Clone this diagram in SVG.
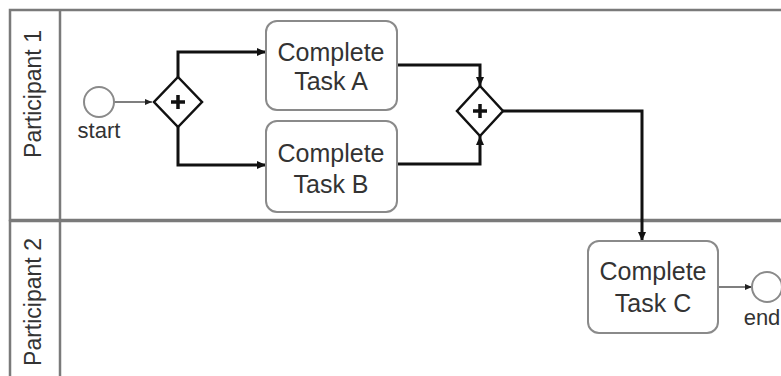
<svg xmlns="http://www.w3.org/2000/svg" width="781" height="376" viewBox="0 0 781 376">
<style>
.lane{fill:#fff;stroke:#7a7a7a;stroke-width:2.5}
.lbl{font-family:"Liberation Sans",Arial,sans-serif;font-size:23px;fill:#333;text-anchor:middle}
.task{fill:#fff;stroke:#8a8a8a;stroke-width:2}
.tt{font-family:"Liberation Sans",Arial,sans-serif;font-size:25px;fill:#333;text-anchor:middle}
.ev{fill:#fff;stroke:#8a8a8a;stroke-width:2}
.evt{font-family:"Liberation Sans",Arial,sans-serif;font-size:22px;fill:#333;text-anchor:middle}
.gw{fill:#fff;stroke:#111;stroke-width:2.5}
.plus{stroke:#111;stroke-width:3.5;fill:none}
.flow{fill:none;stroke:#111;stroke-width:3;marker-end:url(#ah)}
.thin{fill:none;stroke:#555;stroke-width:1.5;marker-end:url(#ahs)}
</style>
<defs>
<marker id="ah" markerUnits="userSpaceOnUse" markerWidth="10" markerHeight="10" refX="9" refY="5" orient="auto"><path d="M0,1 L9,5 L0,9 Z" fill="#111"/></marker>
<marker id="ahs" markerUnits="userSpaceOnUse" markerWidth="8" markerHeight="8" refX="7" refY="4" orient="auto"><path d="M0,1 L7,4 L0,7 Z" fill="#222"/></marker>
</defs>
<rect width="781" height="376" fill="#fff"/>
<g id="lane1">
<rect class="lane" x="10" y="10" width="790" height="210"/>
<line class="lane" x1="60" y1="10" x2="60" y2="220"/>
<text class="lbl" transform="translate(41,94) rotate(-90)">Participant 1</text>
</g>
<g id="lane2">
<rect class="lane" x="10" y="221" width="790" height="180"/>
<line class="lane" x1="60" y1="221" x2="60" y2="376"/>
<text class="lbl" transform="translate(41,302) rotate(-90)">Participant 2</text>
</g>
<g id="connectors">
<path class="thin" d="M114,102 L152,102"/>
<path class="flow" d="M178,77 L178,52 L266,52"/>
<path class="flow" d="M178,127 L178,165 L266,165"/>
<path class="flow" d="M397,65 L480,65 L480,86"/>
<path class="flow" d="M397,164 L480,164 L480,136"/>
<path class="flow" d="M503,111 L642,111 L642,241"/>
<path class="thin" d="M718,287 L752,287"/>
</g>
<g id="start">
<circle class="ev" cx="99" cy="102" r="15"/>
<text class="evt" x="99" y="138">start</text>
</g>
<g id="gateway1">
<path class="gw" d="M178,77 L202,102 L178,127 L154,102 Z"/>
<path class="plus" d="M171,102 H185 M178,95 V109"/>
</g>
<g id="taskA">
<rect class="task" x="266" y="21" width="131" height="89" rx="11"/>
<text class="tt" x="331" y="61">Complete</text>
<text class="tt" x="331" y="90">Task A</text>
</g>
<g id="taskB">
<rect class="task" x="266" y="121" width="131" height="91" rx="11"/>
<text class="tt" x="331" y="162">Complete</text>
<text class="tt" x="331" y="193">Task B</text>
</g>
<g id="gateway2">
<path class="gw" d="M480,86 L503,111 L480,136 L457,111 Z"/>
<path class="plus" d="M473,111 H487 M480,104 V118"/>
</g>
<g id="taskC">
<rect class="task" x="588" y="241" width="130" height="92" rx="11"/>
<text class="tt" x="653" y="280">Complete</text>
<text class="tt" x="653" y="312">Task C</text>
</g>
<g id="end">
<circle class="ev" cx="767" cy="287" r="15"/>
<text class="evt" x="762" y="325">end</text>
</g>
</svg>
